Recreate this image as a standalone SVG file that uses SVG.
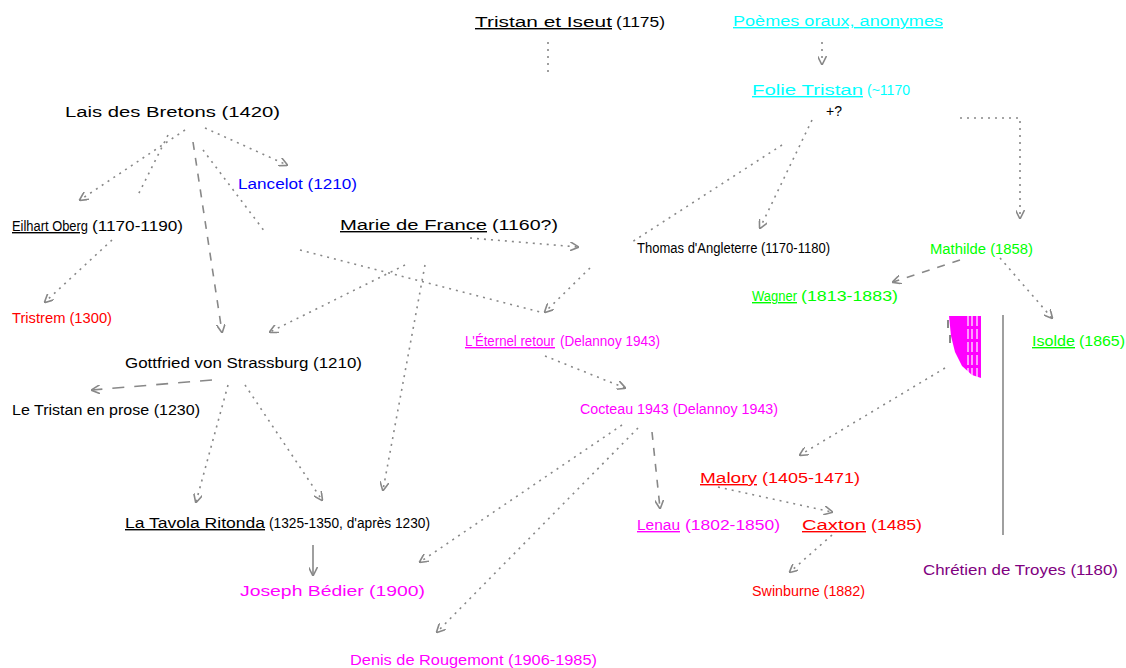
<svg xmlns="http://www.w3.org/2000/svg" width="1126" height="668" viewBox="0 0 1126 668">
<style>
text{font-family:"Liberation Sans",Arial,sans-serif;font-size:14px}
.u{text-decoration:underline}
.k{fill:#000}.c{fill:#00ffff}.b{fill:#0000ff}.r{fill:#ff0000}.m{fill:#ff00ff}.g{fill:#00ff00}.p{fill:#800080}
.e{fill:none;stroke:#888;stroke-width:1.6;stroke-dasharray:2,5}
.d{fill:none;stroke:#888;stroke-width:1.6;stroke-dasharray:8,8}
.s{fill:none;stroke:#888;stroke-width:1.6}
</style>
<defs>
<marker id="a" markerWidth="9" markerHeight="9" refX="8" refY="4.5" orient="auto" markerUnits="userSpaceOnUse">
<path d="M0,0 L9,4.5 L0,9" fill="none" stroke="#888" stroke-width="1.6"/>
</marker>
</defs>
<rect width="1126" height="668" fill="#fff"/>
<g id="connectors">
<path class="e" d="M548,42 L548,72"/>
<path class="e" d="M822,42 L822,64" marker-end="url(#a)"/>
<path class="e" d="M960,118 L1020,118 L1020,218" marker-end="url(#a)"/>
<path class="e" d="M812,120 L760,228" marker-end="url(#a)"/>
<path class="e" d="M782,145 L632,242"/>
<path class="e" d="M185,130 L80,200" marker-end="url(#a)"/>
<path class="e" d="M168,135 L138,195"/>
<path class="e" d="M112,240 L45,302" marker-end="url(#a)"/>
<path class="d" d="M193,142 L222,332" marker-end="url(#a)"/>
<path class="e" d="M205,128 L287,165" marker-end="url(#a)"/>
<path class="e" d="M203,150 L265,232"/>
<path class="e" d="M300,250 L540,312"/>
<path class="e" d="M470,238 L578,247" marker-end="url(#a)"/>
<path class="e" d="M405,265 L270,332" marker-end="url(#a)"/>
<path class="e" d="M425,265 L383,490" marker-end="url(#a)"/>
<path class="e" d="M590,268 L545,312" marker-end="url(#a)"/>
<path class="e" d="M545,356 L625,388" marker-end="url(#a)"/>
<path class="e" d="M622,425 L420,562" marker-end="url(#a)"/>
<path class="e" d="M638,428 L437,632" marker-end="url(#a)"/>
<path class="d" d="M652,432 L660,508" marker-end="url(#a)"/>
<path class="e" d="M945,368 L800,455" marker-end="url(#a)"/>
<path class="e" d="M718,487 L832,512" marker-end="url(#a)"/>
<path class="e" d="M832,535 L790,572" marker-end="url(#a)"/>
<path class="d" d="M960,260 L893,282" marker-end="url(#a)"/>
<path class="e" d="M1000,258 L1052,318" marker-end="url(#a)"/>
<path class="s" d="M1003,315 L1003,535"/>
<path class="d" d="M212,380 L92,390" style="stroke-dasharray:12,10" marker-end="url(#a)"/>
<path class="e" d="M228,385 L196,502" marker-end="url(#a)"/>
<path class="e" d="M245,385 L322,500" marker-end="url(#a)"/>
<path class="s" d="M313,545 L313,575" marker-end="url(#a)"/>
</g>
<g id="n_tristan"><text class="k u" x="475" y="27" textLength="137" lengthAdjust="spacingAndGlyphs">Tristan et Iseut</text><text class="k" x="616" y="27" textLength="49" lengthAdjust="spacingAndGlyphs">(1175)</text></g>
<g id="n_poemes"><text class="c u" x="733" y="26" textLength="210" lengthAdjust="spacingAndGlyphs">Poèmes oraux, anonymes</text></g>
<g id="n_folie"><text class="c u" x="752" y="95" textLength="111" lengthAdjust="spacingAndGlyphs">Folie Tristan</text><text class="c" x="867" y="95" textLength="43" lengthAdjust="spacingAndGlyphs">(~1170</text><text class="k" x="826" y="116">+?</text></g>
<g id="n_lais"><text class="k" x="65" y="117" textLength="215" lengthAdjust="spacingAndGlyphs">Lais des Bretons (1420)</text></g>
<g id="n_eilhart"><text class="k u" x="12" y="231" textLength="76" lengthAdjust="spacingAndGlyphs">Eilhart Oberg</text><text class="k" x="92" y="231" textLength="91" lengthAdjust="spacingAndGlyphs">(1170-1190)</text></g>
<g id="n_lancelot"><text class="b" x="238" y="189" textLength="119" lengthAdjust="spacingAndGlyphs">Lancelot (1210)</text></g>
<g id="n_marie"><text class="k u" x="340" y="230" textLength="147" lengthAdjust="spacingAndGlyphs">Marie de France</text><text class="k" x="492" y="230" textLength="66" lengthAdjust="spacingAndGlyphs">(1160?)</text></g>
<g id="n_thomas"><text class="k" x="637" y="253" textLength="193" lengthAdjust="spacingAndGlyphs">Thomas d'Angleterre (1170-1180)</text></g>
<g id="n_sirtristrem"><text class="r" x="12" y="323" textLength="100" lengthAdjust="spacingAndGlyphs">Tristrem (1300)</text></g>
<g id="n_gottfried"><text class="k" x="125" y="368" textLength="237" lengthAdjust="spacingAndGlyphs">Gottfried von Strassburg (1210)</text></g>
<g id="n_prose"><text class="k" x="12" y="415" textLength="188" lengthAdjust="spacingAndGlyphs">Le Tristan en prose (1230)</text></g>
<g id="n_eternel"><text class="m u" x="465" y="346" textLength="90" lengthAdjust="spacingAndGlyphs">L'Éternel retour</text><text class="m" x="560" y="346" textLength="100" lengthAdjust="spacingAndGlyphs">(Delannoy 1943)</text></g>
<g id="n_cocteau"><text class="m" x="580" y="414" textLength="198" lengthAdjust="spacingAndGlyphs">Cocteau 1943 (Delannoy 1943)</text></g>
<g id="n_tavola"><text class="k u" x="125" y="528" textLength="140" lengthAdjust="spacingAndGlyphs">La Tavola Ritonda</text><text class="k" x="269" y="528" textLength="161" lengthAdjust="spacingAndGlyphs">(1325-1350, d'après 1230)</text></g>
<g id="n_bedier"><text class="m" x="240" y="596" textLength="185" lengthAdjust="spacingAndGlyphs">Joseph Bédier (1900)</text></g>
<g id="n_rougemont"><text class="m" x="350" y="665" textLength="247" lengthAdjust="spacingAndGlyphs">Denis de Rougemont (1906-1985)</text></g>
<g id="n_lenau"><text class="m u" x="637" y="530" textLength="43" lengthAdjust="spacingAndGlyphs">Lenau</text><text class="m" x="685" y="530" textLength="95" lengthAdjust="spacingAndGlyphs">(1802-1850)</text></g>
<g id="n_malory"><text class="r u" x="700" y="483" textLength="57" lengthAdjust="spacingAndGlyphs">Malory</text><text class="r" x="762" y="483" textLength="98" lengthAdjust="spacingAndGlyphs">(1405-1471)</text></g>
<g id="n_caxton"><text class="r u" x="802" y="530" textLength="64" lengthAdjust="spacingAndGlyphs">Caxton</text><text class="r" x="871" y="530" textLength="51" lengthAdjust="spacingAndGlyphs">(1485)</text></g>
<g id="n_swinburne"><text class="r" x="752" y="596" textLength="113" lengthAdjust="spacingAndGlyphs">Swinburne (1882)</text></g>
<g id="n_wagner"><text class="g u" x="752" y="301" textLength="45" lengthAdjust="spacingAndGlyphs">Wagner</text><text class="g" x="801" y="301" textLength="97" lengthAdjust="spacingAndGlyphs">(1813-1883)</text></g>
<g id="n_mathilde"><text class="g" x="930" y="254" textLength="103" lengthAdjust="spacingAndGlyphs">Mathilde (1858)</text></g>
<g id="n_isolde"><text class="g u" x="1032" y="346" textLength="43" lengthAdjust="spacingAndGlyphs">Isolde</text><text class="g" x="1079" y="346" textLength="46" lengthAdjust="spacingAndGlyphs">(1865)</text></g>
<g id="n_chretien"><text class="p" x="923" y="575" textLength="195" lengthAdjust="spacingAndGlyphs">Chrétien de Troyes (1180)</text></g>
<g id="blob">
<path d="M949,316 L981,316 L981,378 L972,375 L962,366 L955,352 L951,336 Z" fill="#ff00ff"/>
<path d="M968,316 V376 M972,316 V376 M977,316 V378" stroke="#fff" stroke-width="1.2" stroke-dasharray="10,3"/>
<path d="M948,320 L948,328 M950,335 L950,343" stroke="#888" stroke-width="2"/>
</g>
</svg>
